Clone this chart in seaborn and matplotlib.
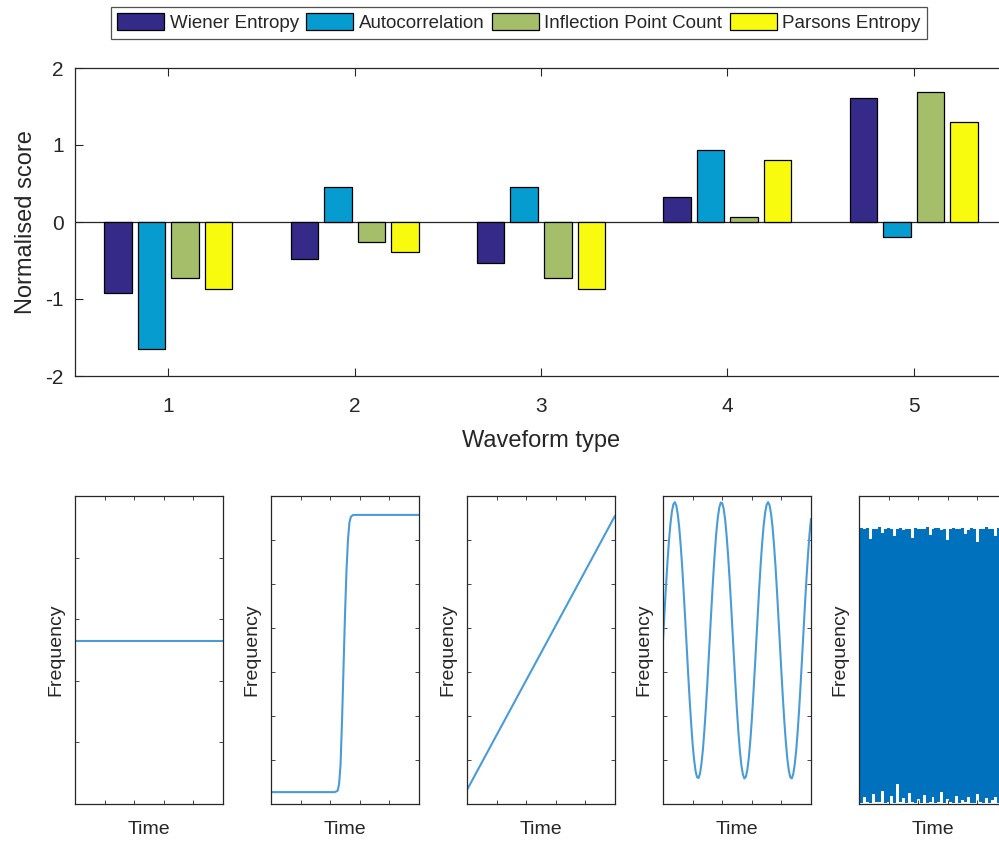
import numpy as np
import pandas as pd
import matplotlib
matplotlib.use('Agg')
import matplotlib.pyplot as plt
from matplotlib.patches import Patch
import seaborn as sns

# Datos del grafico de barras
waveform_types = ['1', '2', '3', '4', '5']
features = ['Wiener Entropy', 'Autocorrelation', 'Inflection Point Count', 'Parsons Entropy']
wiener = [-0.92, -0.48, -0.53, 0.33, 1.61]
autocorr = [-1.65, 0.45, 0.45, 0.94, -0.20]
inflection = [-0.73, -0.26, -0.73, 0.06, 1.69]
parsons = [-0.87, -0.39, -0.87, 0.81, 1.30]
colores = ['#352A87', '#079CCF', '#A5BE6A', '#F9FB0E']

# Formas de onda
flat_x = [0, 5]
flat_y = [2.65, 2.65]

step_x = [0, 2.15, 2.25, 2.30, 2.35, 2.40, 2.45, 2.50, 2.55, 2.60, 2.65, 2.70, 2.78, 5]
step_y = [0.27, 0.27, 0.30, 0.45, 0.90, 1.90, 3.10, 4.30, 5.30, 6.00, 6.40, 6.53, 6.57, 6.57]

ramp_x = [0, 5]
ramp_y = [0.32, 6.55]

sine_x = [i / 20 for i in range(101)]
sine_y = [3.72, 4.34, 4.94, 5.49, 5.97, 6.36, 6.64, 6.81, 6.86, 6.78,
          6.58, 6.27, 5.86, 5.37, 4.80, 4.20, 3.58, 2.96, 2.37, 1.84,
          1.37, 1.01, 0.75, 0.61, 0.59, 0.69, 0.92, 1.25, 1.69, 2.20,
          2.77, 3.38, 4.01, 4.62, 5.20, 5.72, 6.16, 6.50, 6.73, 6.85,
          6.84, 6.71, 6.46, 6.09, 5.64, 5.11, 4.53, 3.91, 3.29, 2.68,
          2.11, 1.61, 1.19, 0.87, 0.67, 0.58, 0.62, 0.78, 1.06, 1.44,
          1.91, 2.46, 3.05, 3.67, 4.29, 4.90, 5.45, 5.93, 6.33, 6.62,
          6.80, 6.86, 6.79, 6.60, 6.30, 5.89, 5.41, 4.85, 4.24, 3.62,
          3.00, 2.41, 1.87, 1.41, 1.03, 0.76, 0.61, 0.58, 0.68, 0.90,
          1.22, 1.65, 2.16, 2.73, 3.34, 3.96, 4.58, 5.16, 5.68, 6.13,
          6.48]

noise_x = [i / 10 for i in range(51)]
noise_top = [6.26, 6.28, 6.24, 6.27, 6.02, 6.26, 6.25, 6.29, 6.15, 6.24,
             6.27, 6.26, 6.10, 6.25, 6.28, 6.22, 6.24, 6.26, 6.05, 6.27,
             6.25, 6.26, 6.24, 6.29, 6.12, 6.25, 6.27, 6.27, 6.22, 6.26,
             6.00, 6.24, 6.28, 6.25, 6.25, 6.27, 6.14, 6.23, 6.28, 6.26,
             5.95, 6.26, 6.24, 6.29, 6.25, 6.25, 6.08, 6.27, 6.26, 6.26,
             6.24]
noise_bottom = [0.04, 0.03, 0.15, 0.04, 0.03, 0.22, 0.04, 0.05, 0.30, 0.03,
                0.04, 0.18, 0.03, 0.45, 0.04, 0.14, 0.03, 0.25, 0.04, 0.03,
                0.11, 0.03, 0.20, 0.03, 0.04, 0.16, 0.03, 0.04, 0.28, 0.03,
                0.12, 0.04, 0.03, 0.19, 0.03, 0.10, 0.04, 0.15, 0.03, 0.03,
                0.22, 0.04, 0.03, 0.13, 0.03, 0.09, 0.17, 0.03, 0.08, 0.03,
                0.04]

sns.set_style('white')
plt.rcParams['font.family'] = ['Liberation Sans', 'DejaVu Sans']
gris = '#262626'

df = pd.DataFrame({
    'Waveform': waveform_types * 4,
    'Feature': [f for f in features for _ in waveform_types],
    'Score': wiener + autocorr + inflection + parsons,
})

fig = plt.figure(figsize=(9.99, 8.41), dpi=100)

# Grafico de barras
ax = fig.add_axes([75 / 999, 465 / 841, 932 / 999, 308 / 841])
ax.axhline(0, color=gris, lw=0.9, zorder=0)
sns.barplot(data=df, x='Waveform', y='Score', hue='Feature', hue_order=features,
            palette=colores, width=0.72, gap=0.18, edgecolor='black',
            linewidth=0.9, saturation=1, legend=False, ax=ax)
ax.set_xlim(-0.5, 4.5)
ax.set_ylim(-2, 2)
ax.set_yticks([-2, -1, 0, 1, 2])
ax.set_yticklabels(['-2', '-1', '0', '1', '2'])
ax.tick_params(direction='in', length=6, width=0.8, colors=gris, labelsize=15,
               top=True, right=True, bottom=True, left=True)
ax.tick_params(axis='x', pad=15)
ax.tick_params(axis='y', pad=8)
for s in ax.spines.values():
    s.set_color(gris)
    s.set_linewidth(0.9)
ax.set_xlabel('Waveform type', fontsize=17, color=gris, labelpad=10)
ax.set_ylabel('Normalised score', fontsize=17, color=gris, labelpad=6)

handles = [Patch(facecolor=c, edgecolor='black', linewidth=0.9) for c in colores]
leg = fig.legend(handles, features, loc='upper center', ncol=4,
                 bbox_to_anchor=(0.5195, 0.992), fontsize=13.5, frameon=True,
                 fancybox=False, edgecolor=gris, handlelength=2.5,
                 handleheight=1.0, handletextpad=0.3, columnspacing=0.4,
                 borderpad=0.35, borderaxespad=0)
leg.get_frame().set_linewidth(0.9)

# Paneles de formas de onda
lefts = [75, 271, 467, 663, 859]
ondas = [(flat_x, flat_y), (step_x, step_y), (ramp_x, ramp_y), (sine_x, sine_y)]
color_linea = '#4A9BD8'
for i, left in enumerate(lefts):
    axp = fig.add_axes([left / 999, 37 / 841, 148 / 999, 308 / 841])
    if i < 4:
        xs, ys = ondas[i]
        sns.lineplot(x=xs, y=ys, color=color_linea, lw=1.5, ax=axp,
                     estimator=None, sort=False)
    else:
        axp.fill_between(noise_x, noise_bottom, noise_top, step='mid',
                         color='#0072BD', lw=0)
    axp.set_xlim(0, 5)
    if i == 0:
        axp.set_ylim(0, 5)
        axp.set_yticks([1, 2, 3, 4])
    else:
        axp.set_ylim(0, 7)
        axp.set_yticks([1, 2, 3, 4, 5, 6])
    axp.set_xticks([1, 2, 3, 4])
    axp.set_xticklabels([])
    axp.set_yticklabels([])
    axp.tick_params(direction='in', length=3, width=0.6, colors=gris,
                    top=True, right=True, bottom=True, left=True)
    for s in axp.spines.values():
        s.set_color(gris)
        s.set_linewidth(0.9)
    axp.set_xlabel('Time', fontsize=14, color=gris, labelpad=9)
    axp.set_ylabel('Frequency', fontsize=14, color=gris, labelpad=4)

plt.savefig('out.png', dpi=100)
